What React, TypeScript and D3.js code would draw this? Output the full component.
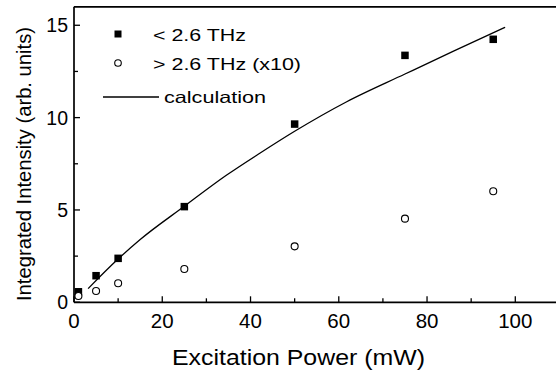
import React from "react";
import * as d3 from "d3";

const powerSquares = [1, 5, 10, 25, 50, 75, 95];
const intensityLow = [0.57, 1.44, 2.38, 5.18, 9.65, 13.37, 14.24];
const powerCircles = [1, 5, 10, 25, 50, 75, 95];
const intensityHigh = [0.34, 0.61, 1.03, 1.8, 3.03, 4.53, 6.01];
const calcPower = [3.2, 9.8, 15, 25, 34.6, 42.1, 50, 61.8, 75, 86, 97.7];
const calcIntensity = [0.74, 2.3, 3.4, 5.2, 6.89, 8.07, 9.26, 10.86, 12.36, 13.6, 14.89];
const xMajorTicks = [0, 20, 40, 60, 80, 100];
const xMinorTicks = [10, 30, 50, 70, 90, 110];
const yMajorTicks = [0, 5, 10, 15];
const yMinorTicks = [2.5, 7.5, 12.5];
const legendLabels = ["< 2.6 THz", "> 2.6 THz (x10)", "calculation"];

const W = 556;
const H = 370;
const FONT = "'Liberation Sans', Arial, Helvetica, sans-serif";

export default function App() {
  const x = d3.scaleLinear().domain([0, 110]).range([74, 74 + 110 * 4.413]);
  const y = d3.scaleLinear().domain([0, 16]).range([302.3, 6.8]);
  const line = d3
    .line<number>()
    .x((_, i) => x(calcPower[i]))
    .y((d) => y(d))
    .curve(d3.curveMonotoneX);

  const x0 = x(0);
  const y0 = y(0);
  const yTop = y(16);
  const sq = 7.5;

  return (
    <svg
      width={W}
      height={H}
      style={{ position: "absolute", left: 0, top: 0, background: "#fff" }}
      fontFamily={FONT}
    >
      <rect x={0} y={0} width={W} height={H} fill="#fff" />
      {/* axes frame */}
      <line x1={x0} x2={W} y1={y0} y2={y0} stroke="#000" strokeWidth={1.7} />
      <line x1={x0} x2={W} y1={yTop} y2={yTop} stroke="#000" strokeWidth={1.7} />
      <line x1={x0} x2={x0} y1={yTop} y2={y0} stroke="#000" strokeWidth={1.7} />
      {/* x ticks */}
      {xMajorTicks.map((t) => (
        <g key={"xm" + t}>
          <line x1={x(t)} x2={x(t)} y1={y0} y2={y0 - 6} stroke="#000" strokeWidth={1.3} />
          <text x={x(t)} y={328} textAnchor="middle" fontSize={20.5} fill="#000">
            {t}
          </text>
        </g>
      ))}
      {xMinorTicks.map((t) => (
        <line key={"xn" + t} x1={x(t)} x2={x(t)} y1={y0} y2={y0 - 4} stroke="#000" strokeWidth={1.3} />
      ))}
      {/* y ticks */}
      {yMajorTicks.map((t) => (
        <g key={"ym" + t}>
          <line x1={x0} x2={x0 + 6} y1={y(t)} y2={y(t)} stroke="#000" strokeWidth={1.3} />
          <text x={68} y={y(t) + 7} textAnchor="end" fontSize={19.5} fill="#000">
            {t}
          </text>
        </g>
      ))}
      {yMinorTicks.map((t) => (
        <line key={"yn" + t} x1={x0} x2={x0 + 4} y1={y(t)} y2={y(t)} stroke="#000" strokeWidth={1.3} />
      ))}
      {/* axis titles */}
      <text
        x={172}
        y={364.5}
        fontSize={22}
        fill="#000"
        textLength={253}
        lengthAdjust="spacingAndGlyphs"
      >
        Excitation Power (mW)
      </text>
      <text
        transform={`translate(30.5,164) rotate(-90)`}
        x={-137}
        fontSize={19.5}
        fill="#000"
        textLength={274}
        lengthAdjust="spacingAndGlyphs"
      >
        Integrated Intensity (arb. units)
      </text>
      {/* calculation line */}
      <path d={line(calcIntensity) || ""} fill="none" stroke="#000" strokeWidth={1.3} />
      {/* squares */}
      {powerSquares.map((p, i) => (
        <rect
          key={"s" + i}
          x={x(p) - sq / 2}
          y={y(intensityLow[i]) - sq / 2}
          width={sq}
          height={sq}
          fill="#000"
        />
      ))}
      {/* circles */}
      {powerCircles.map((p, i) => (
        <circle
          key={"c" + i}
          cx={x(p)}
          cy={y(intensityHigh[i])}
          r={3.5}
          fill="#fff"
          stroke="#000"
          strokeWidth={1.1}
        />
      ))}
      {/* legend */}
      <rect x={118 - 3.5} y={34 - 3.5} width={7} height={7} fill="#000" />
      <text x={153} y={41} fontSize={16.5} fill="#000" textLength={93} lengthAdjust="spacingAndGlyphs">
        {legendLabels[0]}
      </text>
      <circle cx={118} cy={63} r={3.3} fill="#fff" stroke="#000" strokeWidth={1.1} />
      <text x={153} y={70} fontSize={16.5} fill="#000" textLength={148} lengthAdjust="spacingAndGlyphs">
        {legendLabels[1]}
      </text>
      <line x1={103} x2={159} y1={97} y2={97} stroke="#000" strokeWidth={1.3} />
      <text x={164} y={102.5} fontSize={16.5} fill="#000" textLength={102} lengthAdjust="spacingAndGlyphs">
        {legendLabels[2]}
      </text>
    </svg>
  );
}
